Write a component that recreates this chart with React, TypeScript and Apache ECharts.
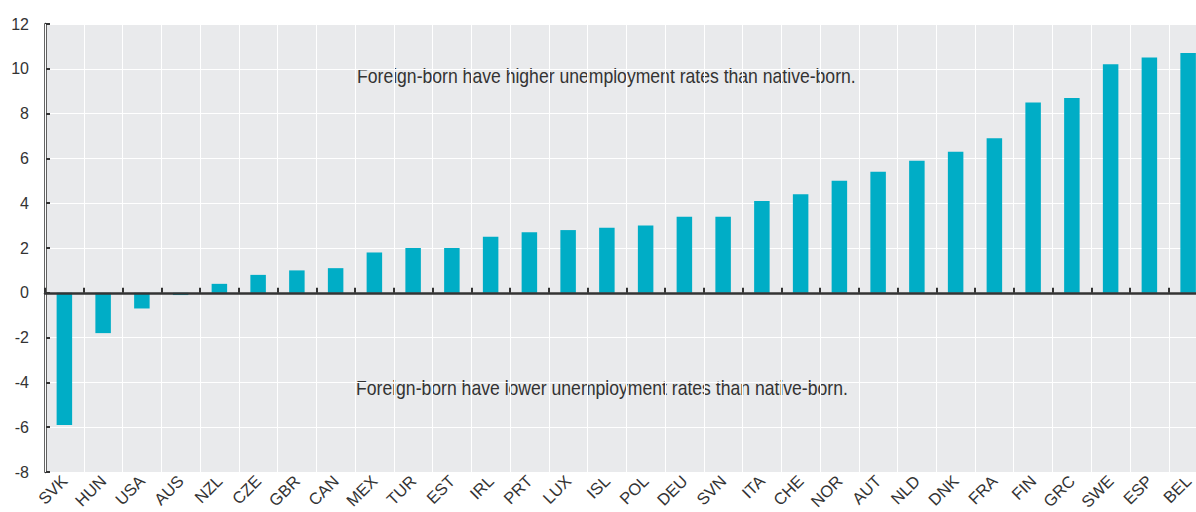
import React, { useEffect, useRef } from "react";
import * as echarts from "echarts";

const categories = ["SVK","HUN","USA","AUS","NZL","CZE","GBR","CAN","MEX","TUR","EST","IRL","PRT","LUX","ISL","POL","DEU","SVN","ITA","CHE","NOR","AUT","NLD","DNK","FRA","FIN","GRC","SWE","ESP","BEL"];
const values = [-5.9,-1.8,-0.7,-0.1,0.4,0.8,1.0,1.1,1.8,2.0,2.0,2.5,2.7,2.8,2.9,3.0,3.4,3.4,4.1,4.4,5.0,5.4,5.9,6.3,6.9,8.5,8.7,10.2,10.5,10.7];
const yTicks = { min: -8, max: 12, interval: 2 };
const noteHigh = "Foreign-born have higher unemployment rates than native-born.";
const noteLow = "Foreign-born have lower unemployment rates than native-born.";

const FONT = "'Liberation Sans', Arial, sans-serif";

export default function App() {
  const ref = useRef<HTMLDivElement>(null);
  useEffect(() => {
    document.body.style.margin = "0";
    const chart = echarts.init(ref.current!, null, { renderer: "svg" });
    chart.setOption({
      animation: false,
      backgroundColor: "#ffffff",
      textStyle: { fontFamily: FONT },
      grid: {
        left: 45, top: 24, width: 1162.5, height: 448,
        outerBoundsMode: "none", containLabel: false,
        show: true, backgroundColor: "#e9eaec", borderWidth: 0,
      },
      xAxis: [
        {
          type: "category", data: categories, position: "bottom",
          axisLine: { show: true, onZero: true, lineStyle: { color: "#333", width: 2.5 } },
          axisTick: { show: true, inside: true, length: 5, interval: 0, lineStyle: { color: "#333", width: 2 } },
          axisLabel: { show: false },
          splitLine: { show: true, interval: 0, lineStyle: { color: "#ffffff", width: 1 } },
          z: 10,
        },
        {
          type: "category", data: categories, position: "bottom",
          axisLine: { show: false, onZero: false }, axisTick: { show: false },
          axisLabel: { show: true, interval: 0, rotate: 45, fontSize: 16.5, color: "#333", margin: 6, fontFamily: FONT },
          splitLine: { show: false },
        },
      ],
      yAxis: {
        type: "value", min: yTicks.min, max: yTicks.max, interval: yTicks.interval,
        axisLine: { show: true, lineStyle: { color: "#333", width: 2.5 } },
        axisTick: { show: true, inside: true, length: 5, lineStyle: { color: "#333", width: 2 } },
        axisLabel: { fontSize: 16, color: "#333", margin: 16, fontFamily: FONT },
        splitLine: { show: true, lineStyle: { color: "#ffffff", width: 1 } },
      },
      series: [
        {
          type: "bar", xAxisIndex: 0, data: values, barWidth: 15.5,
          itemStyle: { color: "#00adc6" },
        },
      ],
      graphic: [
        { type: "text", x: 357, y: 66, scaleX: 0.88, style: { text: noteHigh, fontSize: 20, fill: "#333", fontFamily: FONT } },
        { type: "text", x: 356, y: 378, scaleX: 0.88, style: { text: noteLow, fontSize: 20, fill: "#333", fontFamily: FONT } },
      ],
    });
    return () => chart.dispose();
  }, []);
  return <div ref={ref} style={{ position: "absolute", left: 0, top: 0, width: 1196, height: 512 }} />;
}
